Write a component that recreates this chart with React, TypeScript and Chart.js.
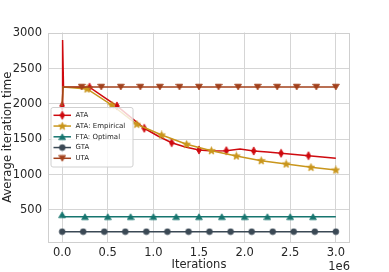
import { useEffect, useRef } from 'react';
import { Chart, registerables } from 'chart.js';

Chart.register(...registerables);

const seriesLabels = ['ATA', 'ATA: Empirical', 'FTA: Optimal', 'GTA', 'UTA'];
const seriesColors = ['#cf0a0f', '#c9961c', '#16756f', '#3b4955', '#a2411c'];

const ataX = [0, 0.005e6, 0.015e6, 0.3e6, 0.45e6, 0.6e6, 0.75e6, 0.9e6, 1.05e6, 1.2e6, 1.35e6, 1.5e6, 1.65e6, 1.8e6, 1.95e6, 2.1e6, 2.25e6, 2.4e6, 2.55e6, 2.7e6, 2.85e6, 3.0e6];
const ataY = [1975, 2905, 2240, 2238, 2105, 1972, 1814, 1656, 1547, 1452, 1390, 1349, 1335, 1339, 1363, 1335, 1320, 1302, 1285, 1268, 1250, 1232];
const ataMarks = [0, 3, 5, 7, 9, 11, 13, 15, 17, 19];

const empX = [0, 0.01e6, 0.273e6, 0.545e6, 0.818e6, 1.091e6, 1.364e6, 1.636e6, 1.909e6, 2.182e6, 2.455e6, 2.727e6, 3.0e6];
const empY = [1975, 2240, 2212, 1985, 1713, 1561, 1430, 1339, 1264, 1198, 1151, 1104, 1066];
const empMarks = [2, 3, 4, 5, 6, 7, 8, 9, 10, 11, 12];

const ftaX = [0, 0.01e6, 0.25e6, 0.5e6, 0.75e6, 1.0e6, 1.25e6, 1.5e6, 1.75e6, 2.0e6, 2.25e6, 2.5e6, 2.75e6, 3.0e6];
const ftaY = [432, 405, 405, 405, 405, 405, 405, 405, 405, 405, 405, 405, 405, 405];
const ftaMarks = [0, 2, 3, 4, 5, 6, 7, 8, 9, 10, 11, 12];

const gtaX = [0, 0.231e6, 0.462e6, 0.692e6, 0.923e6, 1.154e6, 1.385e6, 1.615e6, 1.846e6, 2.077e6, 2.308e6, 2.538e6, 2.769e6, 3.0e6];
const gtaY = [193, 193, 193, 193, 193, 193, 193, 193, 193, 193, 193, 193, 193, 193];
const gtaMarks = [0, 1, 2, 3, 4, 5, 6, 7, 8, 9, 10, 11, 12, 13];

const utaX = [0, 0.01e6, 0.214e6, 0.429e6, 0.643e6, 0.857e6, 1.071e6, 1.286e6, 1.5e6, 1.714e6, 1.929e6, 2.143e6, 2.357e6, 2.571e6, 2.786e6, 3.0e6];
const utaY = [1975, 2240, 2240, 2240, 2240, 2240, 2240, 2240, 2240, 2240, 2240, 2240, 2240, 2240, 2240, 2240];
const utaMarks = [2, 3, 4, 5, 6, 7, 8, 9, 10, 11, 12, 13, 14, 15];

const xTicks = [0, 0.5e6, 1.0e6, 1.5e6, 2.0e6, 2.5e6, 3.0e6];
const yTicks = [500, 1000, 1500, 2000, 2500, 3000];

const FONT = 'DejaVu Sans';
const TEXT = '#262626';
const GRID = '#d5d5d5';

function makeMarker(kind: string, color: string): HTMLCanvasElement {
  const c = document.createElement('canvas');
  let w = 8, h = 8;
  if (kind === 'diamond') { w = 6; h = 10; }
  if (kind === 'star') { w = 9; h = 9; }
  c.width = w; c.height = h;
  const g = c.getContext('2d')!;
  g.fillStyle = color; g.strokeStyle = color; g.lineWidth = 0.8;
  g.beginPath();
  if (kind === 'diamond') {
    g.moveTo(3, 0.9); g.lineTo(5.3, 5); g.lineTo(3, 9.1); g.lineTo(0.7, 5);
  } else if (kind === 'star') {
    const cx = 4.5, cy = 4.7, ro = 4.0, ri = 1.7;
    for (let i = 0; i < 10; i++) {
      const r = i % 2 === 0 ? ro : ri;
      const a = -Math.PI / 2 + (i * Math.PI) / 5;
      const px = cx + r * Math.cos(a), py = cy + r * Math.sin(a);
      if (i === 0) g.moveTo(px, py); else g.lineTo(px, py);
    }
  } else if (kind === 'triUp') {
    g.moveTo(4, 1.1); g.lineTo(7.4, 6.8); g.lineTo(0.6, 6.8);
  } else if (kind === 'triDown') {
    g.moveTo(4, 6.9); g.lineTo(7.4, 1.2); g.lineTo(0.6, 1.2);
  } else {
    g.arc(4, 4, 2.9, 0, Math.PI * 2);
  }
  g.closePath();
  g.fill();
  g.stroke();
  return c;
}

export default function App() {
  const ref = useRef<HTMLCanvasElement>(null);
  useEffect(() => {
    const canvas = ref.current!;
    const kinds = ['diamond', 'star', 'triUp', 'circle', 'triDown'];
    const markers = kinds.map((k, i) => makeMarker(k, seriesColors[i]));
    const xs = [ataX, empX, ftaX, gtaX, utaX];
    const ys = [ataY, empY, ftaY, gtaY, utaY];
    const marks = [ataMarks, empMarks, ftaMarks, gtaMarks, utaMarks];

    const datasets = seriesLabels.map((label, i) => ({
      label,
      data: xs[i].map((x, j) => ({ x, y: ys[i][j] })),
      borderColor: seriesColors[i],
      backgroundColor: seriesColors[i],
      borderWidth: 1.5,
      pointStyle: markers[i],
      pointRadius: (ctx: any) => (marks[i].includes(ctx.dataIndex) ? 3 : 0),
      pointHoverRadius: 0,
      tension: 0,
      fill: false,
      order: 4 - i,
    }));

    const decor = {
      id: 'decor',
      afterDatasetsDraw(chart: any) {
        const { ctx, chartArea: a } = chart;
        ctx.save();
        ctx.strokeStyle = '#cfcfcf';
        ctx.lineWidth = 1;
        ctx.strokeRect(Math.round(a.left) + 0.5, Math.round(a.top) + 0.5, Math.round(a.right - a.left) - 1, Math.round(a.bottom - a.top) - 1);
        ctx.restore();
      },
      afterDraw(chart: any) {
        const { ctx, chartArea: a } = chart;
        ctx.save();
        const bx = a.left + 3, by = a.top + 75, bw = 82, bh = 59.5;
        ctx.beginPath();
        const r = 2;
        ctx.moveTo(bx + r, by);
        ctx.lineTo(bx + bw - r, by);
        ctx.arcTo(bx + bw, by, bx + bw, by + r, r);
        ctx.lineTo(bx + bw, by + bh - r);
        ctx.arcTo(bx + bw, by + bh, bx + bw - r, by + bh, r);
        ctx.lineTo(bx + r, by + bh);
        ctx.arcTo(bx, by + bh, bx, by + bh - r, r);
        ctx.lineTo(bx, by + r);
        ctx.arcTo(bx, by, bx + r, by, r);
        ctx.closePath();
        ctx.fillStyle = 'rgba(255,255,255,0.8)';
        ctx.fill();
        ctx.strokeStyle = '#d0d0d0';
        ctx.lineWidth = 1;
        ctx.stroke();
        ctx.font = `7px "${FONT}"`;
        ctx.textBaseline = 'middle';
        ctx.textAlign = 'left';
        seriesLabels.forEach((lab, i) => {
          const yy = by + 7.8 + i * 10.75;
          ctx.strokeStyle = seriesColors[i];
          ctx.lineWidth = 1.5;
          ctx.beginPath();
          ctx.moveTo(bx + 2.5, yy);
          ctx.lineTo(bx + 20, yy);
          ctx.stroke();
          const m = markers[i];
          ctx.drawImage(m, bx + 11.3 - m.width / 2, yy - m.height / 2);
          ctx.fillStyle = TEXT;
          ctx.fillText(lab, bx + 24.5, yy);
        });
        ctx.font = `11.5px "${FONT}"`;
        ctx.textAlign = 'right';
        ctx.textBaseline = 'alphabetic';
        ctx.fillStyle = TEXT;
        ctx.fillText('1e6', a.right, 269.5);
        ctx.restore();
      },
    };

    const chart = new Chart(canvas, {
      type: 'line',
      data: { datasets: datasets as any },
      options: {
        animation: false,
        responsive: false,
        events: [],
        layout: { padding: { left: 0, top: 32.5, right: 39, bottom: 0 } },
        plugins: { legend: { display: false }, tooltip: { enabled: false } },
        scales: {
          x: {
            type: 'linear',
            min: -0.155e6,
            max: 3.155e6,
            afterBuildTicks: (s: any) => { s.ticks = xTicks.map((v) => ({ value: v })); },
            afterFit: (s: any) => { s.height = 30; },
            ticks: {
              callback: (v: any) => (Number(v) / 1e6).toFixed(1),
              font: { family: FONT, size: 11.5 },
              color: TEXT,
              padding: 4.5,
              autoSkip: false,
              maxRotation: 0,
            },
            grid: { color: GRID, lineWidth: 1, drawTicks: false },
            border: { display: false },
            title: { display: true, text: 'Iterations', font: { family: FONT, size: 11.5 }, color: TEXT, padding: { top: 0, bottom: 0 } },
          },
          y: {
            type: 'linear',
            min: 47,
            max: 3011,
            afterBuildTicks: (s: any) => { s.ticks = yTicks.map((v) => ({ value: v })); },
            afterFit: (s: any) => { s.width = 48; },
            ticks: {
              callback: (v: any) => String(v),
              font: { family: FONT, size: 11.5 },
              color: TEXT,
              padding: 6,
            },
            grid: { color: GRID, lineWidth: 1, drawTicks: false },
            border: { display: false },
            title: { display: true, text: 'Average iteration time', font: { family: FONT, size: 11.7 }, color: TEXT, padding: { top: 1, bottom: 0 } },
          },
        },
      } as any,
      plugins: [decor],
    });
    return () => chart.destroy();
  }, []);

  return (
    <div style={{ position: 'absolute', left: 0, top: 0, width: 389, height: 272, background: '#fff' }}>
      <canvas ref={ref} width={389} height={272} style={{ display: 'block' }} />
    </div>
  );
}
